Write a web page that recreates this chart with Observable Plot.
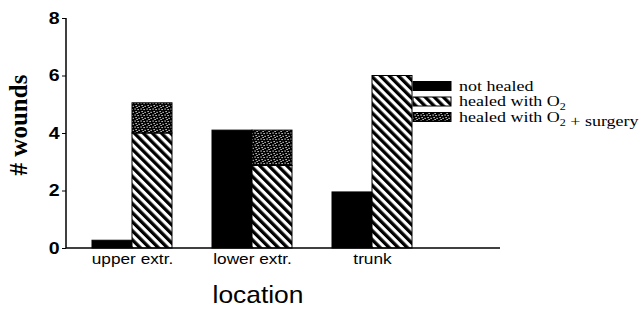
<!DOCTYPE html>
<html><head><meta charset="utf-8">
<script src="https://cdn.jsdelivr.net/npm/d3@7"></script>
<script src="https://cdn.jsdelivr.net/npm/@observablehq/plot@0.6"></script>
<style>body{margin:0;background:#fff} #chart{width:641px;height:309px}</style>
</head><body><div id="chart"></div>
<script>
// ---- data ----
const locations = ["upper extr.", "lower extr.", "trunk"];
const notHealed = [0.27, 4.1, 1.95];
const healedO2 = [4.0, 2.87, 6.0];
const healedO2Surgery = [1.05, 1.23, 0];
const seriesNames = ["not healed", "healed with O2", "healed with O2 + surgery"];
const columns = ["not healed", "healed"];
const yTicks = [0, 2, 4, 6, 8];
const xTitle = "location";
const yTitle = "# wounds";

const rows = locations.flatMap((loc, i) => [
  {location: loc, column: columns[0], series: seriesNames[0], value: notHealed[i]},
  {location: loc, column: columns[1], series: seriesNames[1], value: healedO2[i]},
  {location: loc, column: columns[1], series: seriesNames[2], value: healedO2Surgery[i]}
]);

const W = 641, H = 309, ML = 66, MR = 141, MT = 18, MB = 61;
const fills = ["#000", "url(#hatch)", "url(#dots)"];

const plot = Plot.plot({
  width: W, height: H,
  marginLeft: ML, marginRight: MR, marginTop: MT, marginBottom: MB,
  style: {fontFamily: "'Liberation Sans', Arial, sans-serif", background: "#fff", color: "#000"},
  fx: {domain: locations, paddingInner: 1/3, paddingOuter: 0.475, align: 0.228, label: null, axis: null},
  x: {domain: columns, padding: 0, axis: null},
  y: {domain: [0, 8], ticks: yTicks, label: null, axis: null},
  color: {domain: seriesNames, range: fills},
  marks: [
    Plot.barY(rows, {fx: "location", x: "column", y: "value", fill: "series", stroke: "#000", strokeWidth: 1}),
    Plot.axisY({ticks: yTicks, tickSize: 4, tickPadding: 3, fontSize: 17, fontWeight: "bold", label: null}),
    Plot.axisFx({anchor: "bottom", tickSize: 0, tickPadding: 5, fontSize: 15, label: null})
  ]
});

const svg = d3.select(plot);
const defs = svg.insert("defs", ":first-child");
const hatch = defs.append("pattern").attr("id", "hatch").attr("patternUnits", "userSpaceOnUse")
  .attr("width", 6.4).attr("height", 6.4).attr("patternTransform", "rotate(-45)");
hatch.append("rect").attr("width", 6.4).attr("height", 6.4).attr("fill", "#fff");
hatch.append("rect").attr("width", 3.3).attr("height", 6.4).attr("fill", "#000");
const dots = defs.append("pattern").attr("id", "dots").attr("patternUnits", "userSpaceOnUse")
  .attr("width", 6).attr("height", 6);
dots.append("rect").attr("width", 6).attr("height", 6).attr("fill", "#000");
[[0.5,0.5],[3.5,1],[1.5,3],[4.5,3.8],[2.5,5]].forEach(([x, y]) =>
  dots.append("rect").attr("x", x).attr("y", y).attr("width", 1.2).attr("height", 1.1).attr("fill", "#fff"));

// stretch tick labels horizontally (about their anchor) like the scanned reference
svg.selectAll("g[aria-label$='tick label'] text").each(function() {
  const x = +(this.getAttribute("x") || 0);
  const tr = this.getAttribute("transform") || "";
  this.setAttribute("transform", `${tr} translate(${x},0) scale(1.15,1) translate(${-x},0)`);
});

// the y axis is drawn at the first facet's left edge; move it to the frame's left edge
const fx = plot.scale("fx");
const shift = ML - fx.apply(locations[0]);
svg.selectAll("g[aria-label^='y-axis']").each(function() {
  const tr = this.getAttribute("transform") || "";
  this.setAttribute("transform", `translate(${shift},0) ${tr}`);
});

// axis lines through the library's y scale
const y = plot.scale("y");
svg.append("line").attr("x1", ML).attr("x2", ML).attr("y1", y.apply(8)).attr("y2", y.apply(0))
  .attr("stroke", "#000").attr("stroke-width", 1.5);
svg.append("line").attr("x1", ML).attr("x2", W - MR).attr("y1", y.apply(0)).attr("y2", y.apply(0))
  .attr("stroke", "#000").attr("stroke-width", 1.5);

// titles
svg.append("text").attr("transform", `translate(18,125) rotate(-90)`)
  .attr("text-anchor", "middle").attr("dominant-baseline", "central")
  .attr("font-family", "'Liberation Serif', 'Times New Roman', serif").attr("font-weight", "bold")
  .attr("font-size", 25).text(yTitle);
svg.append("text").attr("transform", "translate(258,303) scale(1.1,1)").attr("text-anchor", "middle")
  .attr("font-family", "'Liberation Sans', Arial, sans-serif").attr("font-size", 24).text(xTitle);

// legend
const leg = svg.append("g").attr("text-anchor", "start");
seriesNames.forEach((name, i) => {
  const cy = 86 + i * 15.5;
  leg.append("rect").attr("x", 413).attr("y", cy - 4.5).attr("width", 38).attr("height", 9)
    .attr("fill", fills[i]).attr("stroke", "#000").attr("stroke-width", 1);
  const t = leg.append("text").attr("transform", `translate(459,${cy + 4.5}) scale(1.2,1)`)
    .attr("text-anchor", "start")
    .attr("font-family", "'Liberation Serif', 'Times New Roman', serif").attr("font-size", 15);
  const parts = name.split("O2");
  parts.forEach((p, j) => {
    t.append("tspan").text(p + (j < parts.length - 1 ? "O" : ""));
    if (j < parts.length - 1) {
      t.append("tspan").attr("font-size", 10).attr("dy", 4).text("2");
      t.append("tspan").attr("dy", -4).text("");
    }
  });
});

document.getElementById("chart").appendChild(plot);
</script></body></html>
